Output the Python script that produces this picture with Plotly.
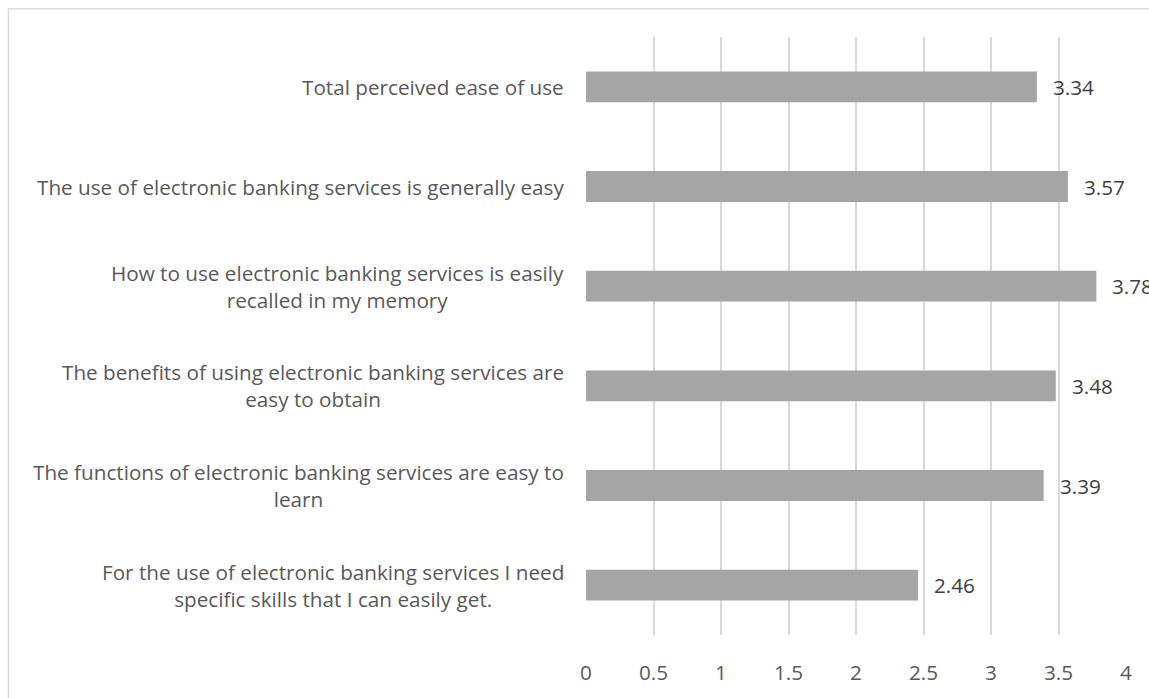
import plotly.graph_objects as go

# Survey items (top to bottom) and their mean scores
items = [
    "Total perceived ease of use",
    "The use of electronic banking services is generally easy",
    "How to use electronic banking services is easily<br>recalled in my memory",
    "The benefits of using electronic banking services are<br>easy to obtain",
    "The functions of electronic banking services are easy to<br>learn",
    "For the use of electronic banking services I need<br>specific skills that I can easily get.",
]
scores = [3.34, 3.57, 3.78, 3.48, 3.39, 2.46]

x_ticks = [0, 0.5, 1, 1.5, 2, 2.5, 3, 3.5, 4]
x_tick_text = ["0", "0.5", "1", "1.5", "2", "2.5", "3", "3.5", "4"]

FONT = "Open Sans"
FONT_SIZE = 20.7
LABEL_COLOR = "#595959"
VALUE_COLOR = "#404040"
BAR_COLOR = "#A5A5A5"
GRID_COLOR = "#D9D9D9"

fig = go.Figure()
fig.add_trace(
    go.Bar(
        x=scores,
        y=items,
        orientation="h",
        marker=dict(color=BAR_COLOR, line=dict(width=0)),
        width=0.31,
        hoverinfo="x",
    )
)

# value labels to the right of each bar
for item, v in zip(items, scores):
    fig.add_annotation(
        x=v, y=item, xref="x", yref="y",
        text=f"{v:.2f}", showarrow=False,
        xanchor="left", xshift=14,
        font=dict(family=FONT, size=FONT_SIZE, color=VALUE_COLOR),
    )

# category labels: right-aligned block, wrapped lines centred
label_font = dict(family=FONT, size=FONT_SIZE, color=LABEL_COLOR)
for item in items:
    fig.add_annotation(
        x=0, y=item, xref="paper", yref="y", text=item, showarrow=False,
        xanchor="right", xshift=-20, align="center", font=label_font,
    )

# outer chart frame
fig.add_shape(
    type="rect", xref="paper", yref="paper",
    x0=-586 / 540 + 8.5 / 540, x1=1.2, y0=-0.2, y1=1 + 28.5 / 605,
    line=dict(color=GRID_COLOR, width=1.5), fillcolor="rgba(0,0,0,0)",
    layer="below",
)

fig.update_layout(
    width=1149, height=698,
    margin=dict(l=586, r=23, t=37, b=56),
    paper_bgcolor="white", plot_bgcolor="white",
    showlegend=False,
    font=dict(family=FONT, color=LABEL_COLOR),
    xaxis=dict(
        range=[0, 4], tickvals=x_ticks, ticktext=x_tick_text,
        showgrid=True, gridcolor=GRID_COLOR, gridwidth=1.5,
        zeroline=False, showline=False,
        ticks="outside", ticklen=19, tickcolor="rgba(0,0,0,0)",
        tickfont=dict(family=FONT, size=FONT_SIZE, color=LABEL_COLOR),
        fixedrange=True,
    ),
    yaxis=dict(
        autorange="reversed", showticklabels=False, showgrid=False,
        zeroline=False, showline=False, fixedrange=True,
    ),
)

fig.write_html("out.html")
